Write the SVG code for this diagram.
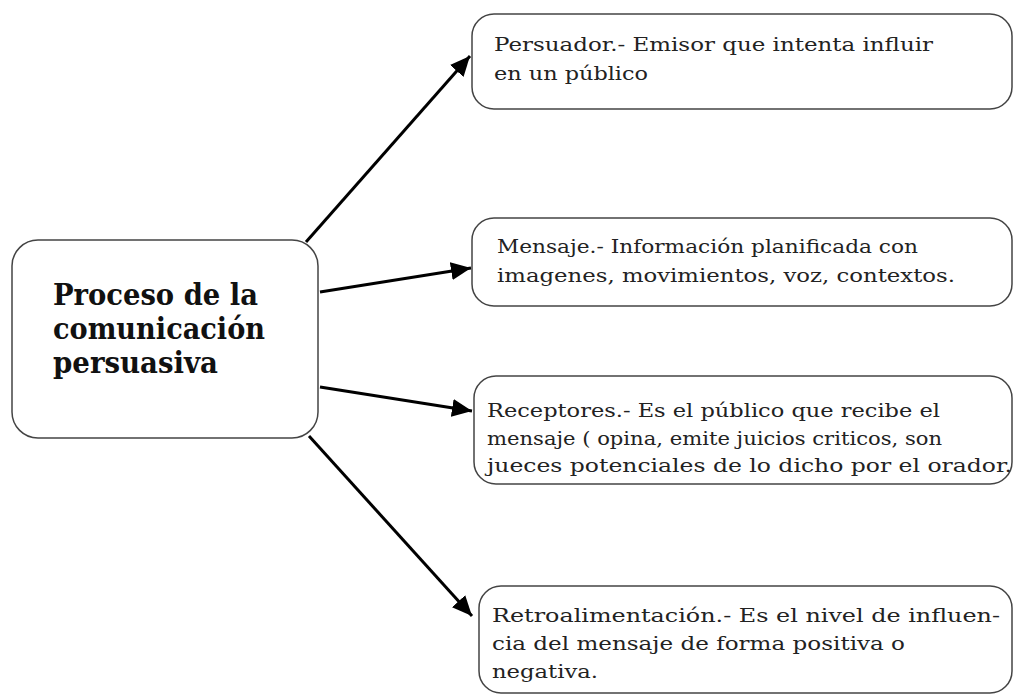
<svg xmlns="http://www.w3.org/2000/svg" width="1015" height="697" viewBox="0 0 1015 697">
<style>
.box{fill:#fff;stroke:#444;stroke-width:1.5}
.t{font-family:"DejaVu Serif","Liberation Serif",serif;font-size:19px;fill:#222}
.h{font-family:"DejaVu Serif","Liberation Serif",serif;font-size:29px;font-weight:bold;fill:#111}
.c{stroke:#000;stroke-width:3;fill:none;marker-end:url(#ah)}
</style>
<defs>
<marker id="ah" markerUnits="userSpaceOnUse" markerWidth="22" markerHeight="18" refX="20" refY="9" orient="auto">
<path d="M0,0 L20,9 L0,18 Z" fill="#000"/>
</marker>
</defs>
<rect width="1015" height="697" fill="#fff"/>
<g id="connectors">
<line class="c" x1="306" y1="242" x2="470" y2="56"/>
<line class="c" x1="320" y1="292" x2="471" y2="268"/>
<line class="c" x1="320" y1="387" x2="472" y2="411"/>
<line class="c" x1="309" y1="436" x2="472" y2="616"/>
</g>
<g id="center">
<rect class="box" x="12" y="240" width="306" height="198" rx="26"/>
<text class="h" x="53" y="305" textLength="205" lengthAdjust="spacingAndGlyphs">Proceso de la</text>
<text class="h" x="53" y="339" textLength="212" lengthAdjust="spacingAndGlyphs">comunicación</text>
<text class="h" x="53" y="373" textLength="165" lengthAdjust="spacingAndGlyphs">persuasiva</text>
</g>
<g id="persuador">
<rect class="box" x="472" y="14" width="540" height="95" rx="22"/>
<text class="t" x="494" y="51" textLength="439" lengthAdjust="spacingAndGlyphs">Persuador.- Emisor que intenta influir</text>
<text class="t" x="494" y="80" textLength="154" lengthAdjust="spacingAndGlyphs">en un público</text>
</g>
<g id="mensaje">
<rect class="box" x="472" y="218" width="540" height="88" rx="22"/>
<text class="t" x="497" y="253" textLength="421" lengthAdjust="spacingAndGlyphs">Mensaje.- Información planificada con</text>
<text class="t" x="497" y="282" textLength="458" lengthAdjust="spacingAndGlyphs">imagenes, movimientos, voz, contextos.</text>
</g>
<g id="receptores">
<rect class="box" x="474" y="376" width="538" height="108" rx="22"/>
<text class="t" x="487" y="417" textLength="453" lengthAdjust="spacingAndGlyphs">Receptores.- Es el público que recibe el</text>
<text class="t" x="487" y="445" textLength="455" lengthAdjust="spacingAndGlyphs">mensaje ( opina, emite juicios criticos, son</text>
<text class="t" x="487" y="472" textLength="525" lengthAdjust="spacingAndGlyphs">jueces potenciales de lo dicho por el orador.</text>
</g>
<g id="retroalimentacion">
<rect class="box" x="479" y="586" width="533" height="107" rx="22"/>
<text class="t" x="492" y="622" textLength="508" lengthAdjust="spacingAndGlyphs">Retroalimentación.- Es el nivel de influen-</text>
<text class="t" x="492" y="650" textLength="413" lengthAdjust="spacingAndGlyphs">cia del mensaje de forma positiva o</text>
<text class="t" x="492" y="678" textLength="106" lengthAdjust="spacingAndGlyphs">negativa.</text>
</g>
</svg>
